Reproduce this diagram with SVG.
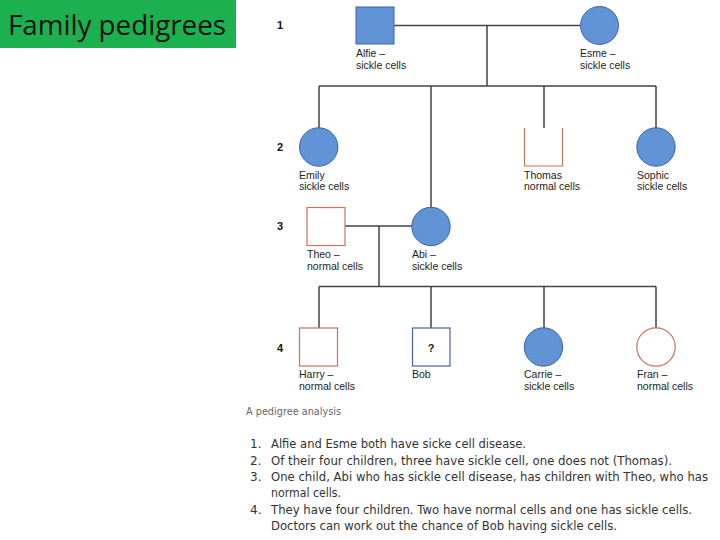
<svg xmlns="http://www.w3.org/2000/svg" width="720" height="540" viewBox="0 0 720 540">
<style>
.lbl{font-family:"Liberation Sans",Arial,sans-serif;font-size:10.5px;fill:#222}
.gen{font-family:"Liberation Sans",Arial,sans-serif;font-size:11px;font-weight:bold;fill:#111}
.aff{fill:#6094d6;stroke:#3f659e;stroke-width:1}
.nrm{fill:#fff;stroke:#c9735e;stroke-width:1.2}
.unk{fill:#fff;stroke:#4a639c;stroke-width:1.2}
.ln{stroke:#444;stroke-width:1.5;fill:none}
.txt{font-family:"DejaVu Sans",Verdana,sans-serif;font-size:12px;fill:#333}
</style>
<rect x="0" y="0" width="236" height="48" fill="#1cb04f"/>
<text x="8" y="35" font-family="Open Sans,Liberation Sans,sans-serif" font-size="27" fill="#111" textLength="218" lengthAdjust="spacingAndGlyphs">Family pedigrees</text>

<g id="connectors">
<path class="ln" d="M394 25.5H580M487 25.5V86M319 86H656M319 86V128M431 86V208M544 86V128M656 86V128"/>
<path class="ln" d="M345 226H412M379 226V286.5M319 286.5H656M319 286.5V328M431 286.5V328M544 286.5V328M656 286.5V328"/>
</g>

<text class="gen" x="277" y="29">1</text>
<text class="gen" x="277" y="151">2</text>
<text class="gen" x="277" y="230">3</text>
<text class="gen" x="277" y="352">4</text>

<g id="alfie"><rect class="aff" x="356" y="7" width="38" height="37"/>
<text class="lbl" x="356" y="57">Alfie –</text><text class="lbl" x="356" y="69">sickle cells</text></g>
<g id="esme"><circle class="aff" cx="599.5" cy="25.5" r="19"/>
<text class="lbl" x="580" y="57">Esme –</text><text class="lbl" x="580" y="69">sickle cells</text></g>

<g id="emily"><circle class="aff" cx="318.7" cy="147" r="19.2"/>
<text class="lbl" x="299" y="179">Emily</text><text class="lbl" x="299" y="190">sickle cells</text></g>
<g id="thomas"><path class="nrm" d="M524.5 128V166H562.5V128"/>
<text class="lbl" x="524" y="179">Thomas</text><text class="lbl" x="524" y="190">normal cells</text></g>
<g id="sophie"><circle class="aff" cx="656" cy="147" r="19.2"/>
<text class="lbl" x="637" y="179">Sophic</text><text class="lbl" x="637" y="190">sickle cells</text></g>

<g id="theo"><rect class="nrm" x="307" y="207.5" width="38" height="38"/>
<text class="lbl" x="307" y="258">Theo –</text><text class="lbl" x="307" y="270">normal cells</text></g>
<g id="abi"><circle class="aff" cx="431" cy="226.5" r="19.2"/>
<text class="lbl" x="412" y="258">Abi –</text><text class="lbl" x="412" y="270">sickle cells</text></g>

<g id="harry"><rect class="nrm" x="299.5" y="328" width="38" height="38"/>
<text class="lbl" x="299" y="378">Harry –</text><text class="lbl" x="299" y="390">normal cells</text></g>
<g id="bob"><rect class="unk" x="412.5" y="328" width="37.5" height="38"/>
<text x="431" y="352" text-anchor="middle" font-family="Liberation Sans,Arial,sans-serif" font-size="11" font-weight="bold" fill="#222">?</text>
<text class="lbl" x="412" y="378">Bob</text></g>
<g id="carrie"><circle class="aff" cx="543.5" cy="347" r="19.2"/>
<text class="lbl" x="524" y="378">Carrie –</text><text class="lbl" x="524" y="390">sickle cells</text></g>
<g id="fran"><circle class="nrm" cx="656" cy="347" r="19.2"/>
<text class="lbl" x="637" y="378">Fran –</text><text class="lbl" x="637" y="390">normal cells</text></g>

<text x="246" y="415" font-family="DejaVu Sans,Verdana,sans-serif" font-size="10" fill="#666" textLength="95" lengthAdjust="spacingAndGlyphs">A pedigree analysis</text>

<g class="txt">
<text x="250" y="448">1.</text><text x="271" y="448" textLength="255" lengthAdjust="spacingAndGlyphs">Alfie and Esme both have sicke cell disease.</text>
<text x="250" y="465">2.</text><text x="271" y="465" textLength="401" lengthAdjust="spacingAndGlyphs">Of their four children, three have sickle cell, one does not (Thomas).</text>
<text x="250" y="481">3.</text><text x="271" y="481" textLength="437" lengthAdjust="spacingAndGlyphs">One child, Abi who has sickle cell disease, has children with Theo, who has</text>
<text x="271" y="497" textLength="70" lengthAdjust="spacingAndGlyphs">normal cells.</text>
<text x="250" y="514">4.</text><text x="271" y="514" textLength="421" lengthAdjust="spacingAndGlyphs">They have four children. Two have normal cells and one has sickle cells.</text>
<text x="271" y="530" textLength="346" lengthAdjust="spacingAndGlyphs">Doctors can work out the chance of Bob having sickle cells.</text>
</g>
</svg>
